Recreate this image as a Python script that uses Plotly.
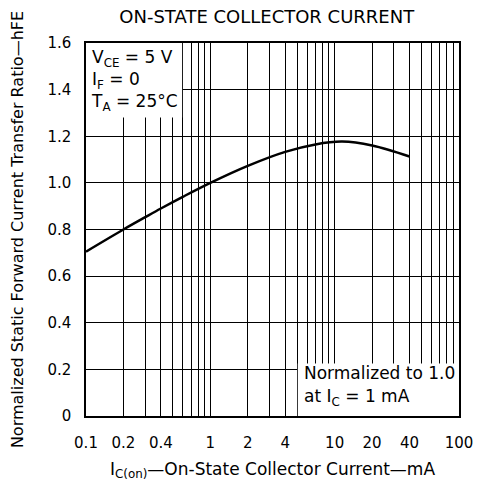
import plotly.graph_objects as go

# Curve data
ic_ma = [0.1, 0.2, 0.3, 0.4, 0.6, 1, 2, 4, 7, 11.5, 20, 40]
hfe_norm = [0.705, 0.80, 0.853, 0.89, 0.94, 1.0, 1.073, 1.133, 1.165, 1.177, 1.16, 1.113]

# Axis ticks / grid
x_tickvals = [0.1, 0.2, 0.4, 1, 2, 4, 10, 20, 40, 100]
x_ticktext = ["0.1", "0.2", "0.4", "1", "2", "4", "10", "20", "40", "100"]
x_minor = [0.3, 0.5, 0.6, 0.7, 0.8, 0.9, 3, 5, 6, 7, 8, 9,
           30, 50, 60, 70, 80, 90]
y_ticks = [0, 0.2, 0.4, 0.6, 0.8, 1.0, 1.2, 1.4, 1.6]
y_labels = ["0", "0.2", "0.4", "0.6", "0.8", "1.0", "1.2", "1.4", "1.6"]

FONT = "DejaVu Sans, sans-serif"

fig = go.Figure()
fig.add_trace(go.Scatter(x=ic_ma, y=hfe_norm, mode="lines",
                         line=dict(color="black", width=2.5, shape="spline", smoothing=1.0),
                         showlegend=False, hoverinfo="skip"))

fig.update_layout(
    width=485, height=487,
    margin=dict(l=86, r=26, t=43, b=71),
    paper_bgcolor="white", plot_bgcolor="white",
    font=dict(family=FONT, size=15, color="black"),
    title=dict(text="ON-STATE COLLECTOR CURRENT", x=0.55, xanchor="center",
               y=1 - 17 / 487, yanchor="middle", font=dict(size=18)),
)

fig.update_xaxes(
    type="log", range=[-1, 2],
    tickmode="array", tickvals=x_tickvals, ticktext=x_ticktext,
    showgrid=True, gridcolor="black", gridwidth=1.3,
    minor=dict(tickmode="array", tickvals=x_minor, showgrid=True,
               gridcolor="black", gridwidth=1.3, ticks=""),
    showline=True, linecolor="black", linewidth=1.5, mirror=True,
    ticks="", zeroline=False, ticklabelstandoff=12,
    tickfont=dict(size=15),
    title=dict(text="I<sub>C(on)</sub>\u2014On-State Collector Current\u2014mA",
               font=dict(size=17), standoff=12),
)
fig.update_yaxes(
    range=[0, 1.6],
    tickmode="array", tickvals=y_ticks, ticktext=y_labels,
    showgrid=True, gridcolor="black", gridwidth=1.3,
    showline=True, linecolor="black", linewidth=1.5, mirror=True,
    ticks="", zeroline=False, ticklabelstandoff=10,
    tickfont=dict(size=15),
    title=dict(text="Normalized Static Forward Current Transfer Ratio\u2014hFE",
               font=dict(size=16), standoff=20),
)

# White boxes that mask the grid behind the notes
fig.add_shape(type="rect", xref="x", yref="y", x0=0.1, x1=0.593, y0=1.28, y1=1.6,
              fillcolor="white", line=dict(width=0), layer="between")
fig.add_shape(type="rect", xref="x", yref="y", x0=5.05, x1=100, y0=0, y1=0.225,
              fillcolor="white", line=dict(width=0), layer="between")

fig.add_annotation(xref="x", yref="y", x=-1, y=1.59, xshift=3,
                   xanchor="left", yanchor="top", align="left", showarrow=False,
                   text="V<sub>CE</sub> = 5 V<br>I<sub>F</sub> = 0<br>T<sub>A</sub> = 25°C",
                   font=dict(size=17))
fig.add_annotation(xref="x", yref="y", x=0.72, y=0.185, xshift=2,
                   xanchor="left", yanchor="middle", align="left", showarrow=False,
                   text="Normalized to 1.0", font=dict(size=17))
fig.add_annotation(xref="x", yref="y", x=0.72, y=0.078, xshift=2,
                   xanchor="left", yanchor="middle", align="left", showarrow=False,
                   text="at I<sub>C</sub> = 1 mA", font=dict(size=17))

fig.write_html("out.html", config={"displayModeBar": False},
               post_script="document.body.style.margin='0px';")
